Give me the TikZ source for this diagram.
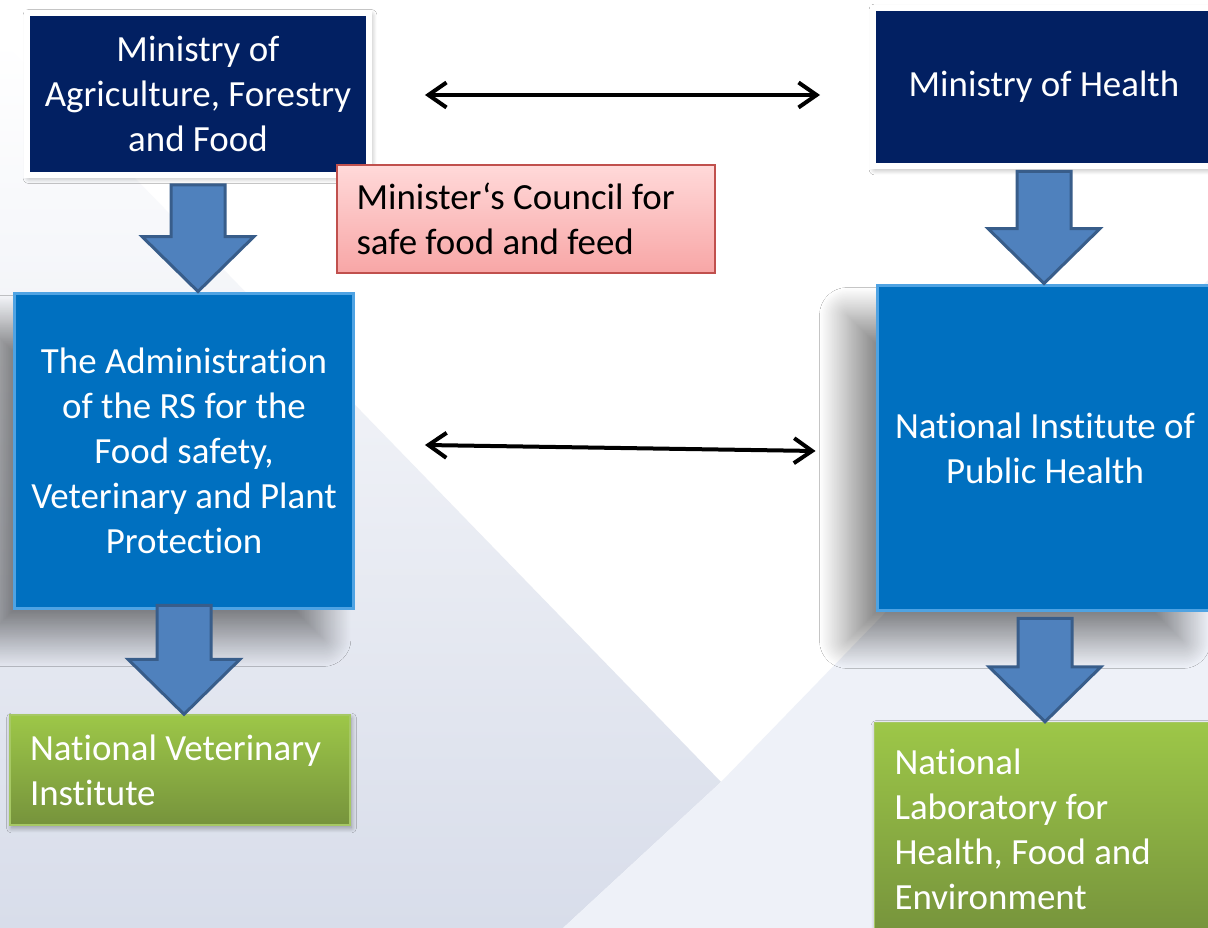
\documentclass[tikz,border=0pt]{standalone}
\usepackage{fontspec}
\setmainfont{Carlito}[Ligatures={NoCommon,NoContextual}]
\usetikzlibrary{calc,arrows.meta,shadows.blur}
\definecolor{navybox}{HTML}{022062}
\definecolor{bluebox}{HTML}{0070C0}
\definecolor{blueedge}{HTML}{4FA3E3}
\definecolor{arrfill}{HTML}{4F81BD}
\definecolor{arredge}{HTML}{385D8A}
\definecolor{pinktop}{HTML}{FFD9D9}
\definecolor{pinkbot}{HTML}{F8A6A6}
\definecolor{pinkedge}{HTML}{C0504D}
\definecolor{greentop}{HTML}{9DC748}
\definecolor{greenbot}{HTML}{76933C}
\definecolor{greenedge}{HTML}{A6C864}
\definecolor{bgdark}{HTML}{D8DDEA}
\definecolor{bglight}{HTML}{EEF1F8}
\newcommand{\flowarr}[3]{\draw[blockarr] ($(#1.south)+(-27,#3)$) -- ($(#1.south)+(27,#3)$) -- ($(#1.south |- #2.north)+(27,-55)$) -- ($(#1.south |- #2.north)+(56,-55)$) -- (#1.south |- #2.north) -- ($(#1.south |- #2.north)+(-56,-55)$) -- ($(#1.south |- #2.north)+(-27,-55)$) -- cycle;}
\begin{document}
\begin{tikzpicture}[x=0.02cm, y=-0.02cm, >={Straight Barb[length=0.36cm,width=0.5cm]},
    every node/.style={font=\fontsize{21}{25.6}\selectfont},
    ministry/.style={fill=navybox, draw=white, line width=0.12cm, text=white, align=center, minimum width=6.84cm, minimum height=3.24cm, blur shadow={shadow xshift=0.04cm, shadow yshift=-0.05cm, shadow blur radius=0.12cm, shadow blur steps=12, shadow opacity=35}},
    council/.style={top color=pinktop, bottom color=pinkbot, draw=pinkedge, line width=0.04cm, text width=6.78cm, align=flush left, inner xsep=0.4cm, minimum height=2.16cm},
    agency/.style={fill=bluebox, draw=blueedge, line width=0.06cm, text=white, align=center, minimum width=6.78cm, minimum height=6.32cm, blur shadow={shadow xshift=-0.6cm, shadow yshift=-0.6cm, shadow blur radius=0.55cm, shadow blur steps=40, shadow opacity=45}},
    lab/.style={top color=greentop, bottom color=greenbot, draw=greenedge, line width=0.03cm, text=white, align=flush left, text width=6cm, inner xsep=0.4cm, minimum height=2.2cm, blur shadow={shadow xshift=0.03cm, shadow yshift=-0.06cm, shadow blur radius=0.1cm, shadow blur steps=10, shadow opacity=35}},
    blockarr/.style={fill=arrfill, draw=arredge, line width=0.06cm},
    relation/.style={<->, line width=0.08cm}]
\useasboundingbox (0,0) rectangle (1208,928);
\clip (0,0) rectangle (1208,928);
\fill[white] (0,0) rectangle (1208,928);
\shade[top color=white, bottom color=bgdark] (0,39) -- (721,782) -- (563,928) -- (0,928) -- cycle;
\fill[bglight] (563,928) -- (721,782) -- (1208,280) -- (1208,928) -- cycle;

\node[ministry] (moaf) at (198,94) {Ministry of\\Agriculture, Forestry\\and Food};
\node[ministry, minimum height=3.18cm] (moh) at (1044,87) {Ministry of Health};
\node[council] (council) at (526,219) {Minister‘s Council for\\safe food and feed};
\node[agency] (admin) at (184,451) {The Administration\\of the RS for the\\Food safety,\\Veterinary and Plant\\Protection};
\node[agency, minimum width=6.72cm, minimum height=6.52cm] (niph) at (1045,448) {National Institute of\\Public Health};
\node[lab] (nvi) at (180,770) {National Veterinary\\Institute};
\node[lab, text width=5.94cm, minimum height=4.26cm] (nlhfe) at (1043,829) {National\\Laboratory for\\Health, Food and\\Environment};

\flowarr{moaf}{admin}{7}
\flowarr{admin}{nvi}{-5}
\flowarr{moh}{niph}{2}
\flowarr{niph}{nlhfe}{6}

\draw[relation] ($(moaf.east)+(53,1)$) -- ($(moaf.east -| moh.west)+(-50,1)$);
\draw[relation] ($(admin.east)+(70,-6)$) -- ($(niph.west)+(-60,3)$);
\end{tikzpicture}
\end{document}
